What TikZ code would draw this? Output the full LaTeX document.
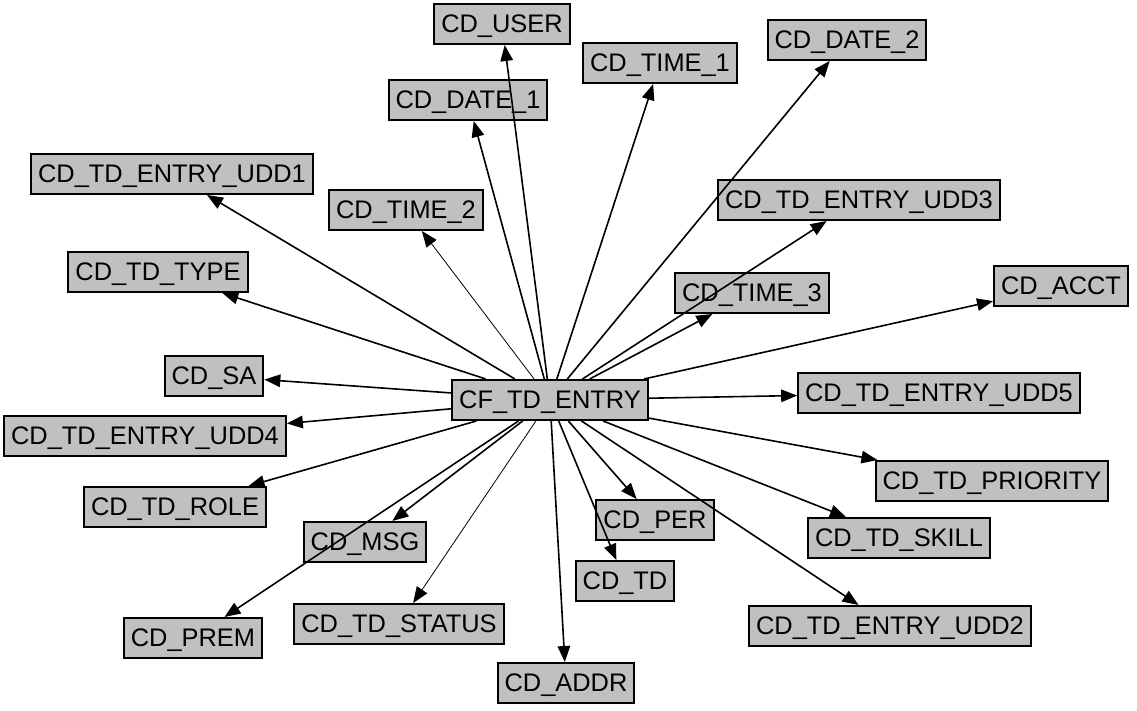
\documentclass[tikz,border=0pt]{standalone}
\usepackage{fontspec}
\setmainfont{Liberation Sans}
\usepackage{xcolor}
\usepackage{tikz}
\usetikzlibrary{arrows.meta,shapes}

\definecolor{boxgray}{RGB}{192,192,192}

\begin{document}
\begin{tikzpicture}[
		->,
		>={Triangle[length=16pt,width=12.5pt]},
		x=1pt, y=-1pt,
		line width=1.6pt,
		table/.style={rectangle, draw, fill=boxgray, line width=2pt,
			minimum height=40pt, inner xsep=7pt,
			text height=17pt, text depth=0pt,
			font=\fontsize{25.4pt}{30pt}\selectfont},
		faint/.style={line width=0.8pt}
	  ]
	\useasboundingbox[fill=white] (0,0) rectangle (1137,711);

	  \node[table] (e) at (550,400) 		{CF\_TD\_ENTRY};

	  \node[table] (user) at (502,24) 		{CD\_USER};
	  \node[table] (time1) at (660,63) 		{CD\_TIME\_1};
	  \node[table] (date2) at (847,40) 		{CD\_DATE\_2};
	  \node[table] (date1) at (468,100) 		{CD\_DATE\_1};
	  \node[table] (udd1) at (172,174) 		{CD\_TD\_ENTRY\_UDD1};
	  \node[table] (time2) at (406,210) 		{CD\_TIME\_2};
	  \node[table] (udd3) at (859,200) 		{CD\_TD\_ENTRY\_UDD3};
	  \node[table] (type) at (158,272) 		{CD\_TD\_TYPE};
	  \node[table] (time3) at (752,293) 		{CD\_TIME\_3};
	  \node[table] (acct) at (1061,286) 		{CD\_ACCT};
	  \node[table] (sa) at (214,376) 		{CD\_SA};
	  \node[table] (udd5) at (939,393) 		{CD\_TD\_ENTRY\_UDD5};
	  \node[table] (udd4) at (145,436) 		{CD\_TD\_ENTRY\_UDD4};
	  \node[table] (prio) at (992,481) 		{CD\_TD\_PRIORITY};
	  \node[table] (role) at (175,507) 		{CD\_TD\_ROLE};
	  \node[table] (per) at (655,520) 		{CD\_PER};
	  \node[table] (skill) at (899,538) 		{CD\_TD\_SKILL};
	  \node[table] (msg) at (365,542) 		{CD\_MSG};
	  \node[table] (td) at (625,581) 		{CD\_TD};
	  \node[table] (prem) at (193,638) 		{CD\_PREM};
	  \node[table] (status) at (399,624) 	{CD\_TD\_STATUS};
	  \node[table] (udd2) at (890,626) 		{CD\_TD\_ENTRY\_UDD2};
	  \node[table] (addr) at (566,683) 		{CD\_ADDR};

	  \path 	 (e) 	edge 			(user)
	            		edge 			(time1)
	            		edge 			(date2)
	            		edge 			(date1)
	            		edge 			(udd1)
	            		edge [faint] 	(time2)
	            		edge 			(udd3)
	            		edge 			(type)
	            		edge 			(time3)
	            		edge 			(acct)
	            		edge 			(sa)
	            		edge 			(udd5)
	            		edge 			(udd4)
	            		edge 			(prio)
	            		edge 			(role)
	            		edge 			(per)
	            		edge 			(skill)
	            		edge 			(msg)
	            		edge 			(td)
	            		edge 			(prem)
	            		edge [faint] 	(status)
	            		edge 			(udd2)
	            		edge 			(addr);

	\end{tikzpicture}
\end{document}
